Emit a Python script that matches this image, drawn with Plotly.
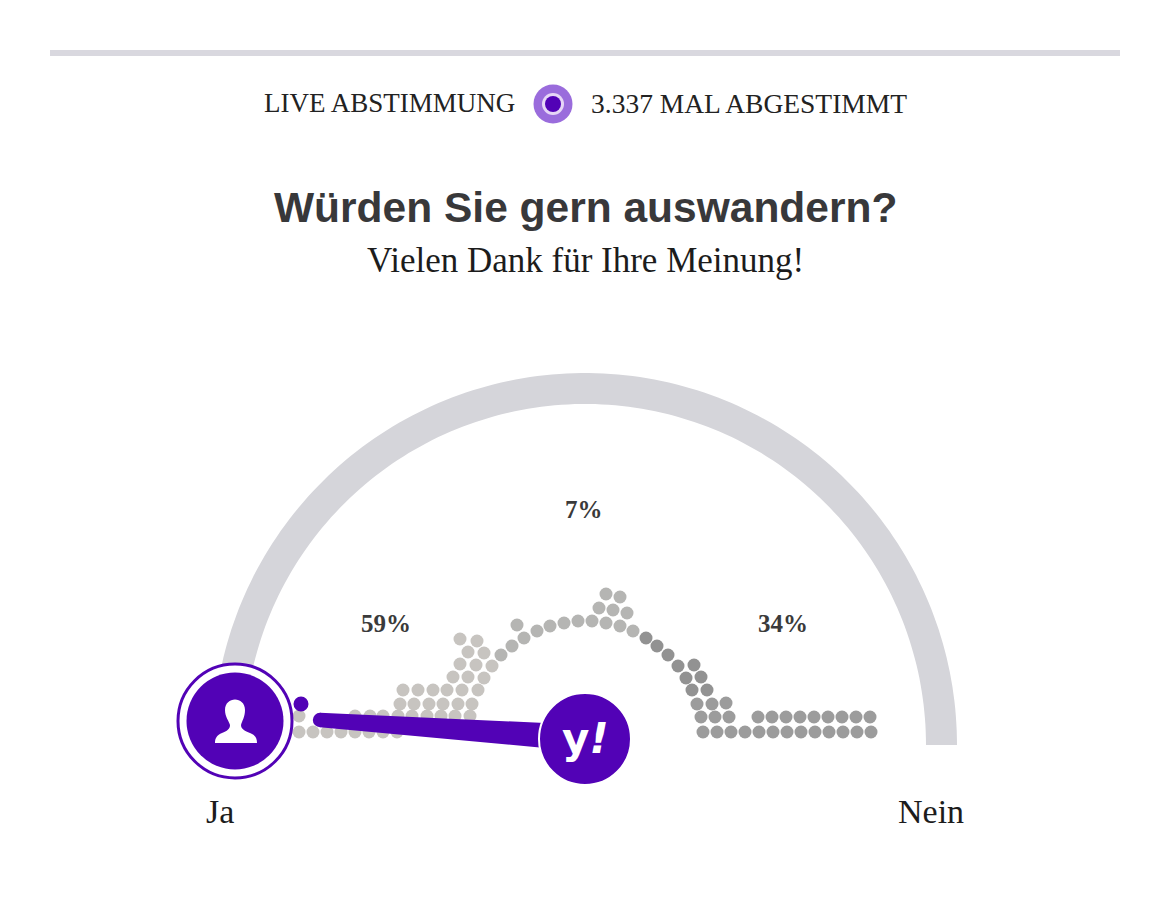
import numpy as np
import plotly.graph_objects as go

# Werte
QUESTION = "Würden Sie gern auswandern?"
SUBTITLE = "Vielen Dank für Ihre Meinung!"
LIVE_LEFT = "LIVE ABSTIMMUNG"
LIVE_RIGHT = "3.337 MAL ABGESTIMMT"
ANSWERS = ["Ja", "Nein"]
PERCENT_LABELS = ["59%", "7%", "34%"]

JA_X = [460, 477, 468, 484, 460, 476, 492, 453, 468, 484,
        403, 418, 433, 447, 462, 478,
        400, 414, 429, 443, 458, 472,
        299, 355, 370, 383, 398, 412, 427, 441, 455, 470,
        299, 313, 327, 341, 355, 369, 383, 397]
JA_Y = [639, 641, 652, 653, 664, 665, 666, 677, 677, 678,
        690, 690, 690, 690, 690, 690,
        704, 704, 704, 704, 704, 704,
        716, 716, 716, 716, 716, 716, 716, 716, 716, 716,
        732, 732, 732, 732, 732, 732, 732, 732]

MITTE_X = [606, 620, 599, 613, 627, 517, 592, 578, 564, 550, 537, 524, 512, 501,
           606, 620, 633]
MITTE_Y = [594, 597, 608, 610, 613, 625, 621, 621, 623, 626, 631, 638, 646, 655,
           623, 626, 631]

KURVE_X = [646, 657, 668, 678, 694, 686, 701, 692, 707]
KURVE_Y = [638, 646, 655, 666, 665, 678, 677, 690, 690]

NEIN_X = [697, 712, 726, 701, 715, 729,
          758, 772, 786, 800, 814, 828, 842, 856, 870,
          703, 717, 731, 745, 759, 773, 787, 801, 815, 829, 843, 857, 871]
NEIN_Y = [704, 704, 703, 717, 717, 717,
          717, 717, 717, 717, 717, 717, 717, 717, 717,
          732, 732, 732, 732, 732, 732, 732, 732, 732, 732, 732, 732, 732]

PURPLE = "#5202b6"
RING = "#d5d5da"


def circle(cx, cy, r, color, line_color=None, line_width=0):
    return dict(type="circle", xref="x", yref="y", layer="above",
                x0=cx - r, x1=cx + r, y0=cy - r, y1=cy + r,
                fillcolor=color, line=dict(color=line_color or color, width=line_width))


def poly(path, color, layer="above"):
    return dict(type="path", xref="x", yref="y", layer=layer, path=path,
                fillcolor=color, line=dict(width=0))


def arc_path(cx, cy, r_out, r_in):
    t = np.linspace(np.pi, 0, 160)
    pts = [(cx + r_out * np.cos(a), cy - r_out * np.sin(a)) for a in t]
    pts += [(cx + r_in * np.cos(a), cy - r_in * np.sin(a)) for a in t[::-1]]
    return "M " + " L ".join(f"{x:.1f},{y:.1f}" for x, y in pts) + " Z"


fig = go.Figure()

for xs, ys, col in [(JA_X, JA_Y, "#c7c4c0"), (MITTE_X, MITTE_Y, "#b5b5b3"),
                    (KURVE_X, KURVE_Y, "#929292"), (NEIN_X, NEIN_Y, "#9c9c9c")]:
    fig.add_trace(go.Scatter(x=xs, y=ys, mode="markers", hoverinfo="skip",
                             marker=dict(size=13, color=col, line=dict(width=0))))

shapes = [
    dict(type="rect", xref="x", yref="y", layer="below", x0=50, x1=1120, y0=50, y1=56,
         fillcolor="#d9d8df", line=dict(width=0)),
    poly(arc_path(585, 745, 372, 341), RING, layer="below"),
    # Live-Symbol
    circle(553, 104, 19.5, "#9a6cdc"),
    circle(553, 104, 11, "#e6d6f6"),
    circle(553, 104, 8, PURPLE),
    # Balken zum Yahoo-Kreis
    circle(320, 720, 7.2, PURPLE),
    poly("M 320,712.8 L 545,723 L 545,748 L 320,727.2 Z", PURPLE),
    circle(585, 739, 46, PURPLE, "#ffffff", 2),
    # Ja-Knopf
    circle(235, 721, 57, "#ffffff", PURPLE, 3),
    circle(235, 721, 48.5, PURPLE),
    dict(type="path", xref="x", yref="y", layer="above", fillcolor="#ffffff", line=dict(width=0),
         path="M 225,710 C 225,696 245,696 245,710 C 245,717 242,721 241,725 C 241,729 245,731 250,733 "
              "C 255,735 257,738 257,743 L 215,743 C 215,738 217,735 222,733 C 227,731 230,729 230,725 "
              "C 229,721 225,717 225,710 Z"),
    circle(301, 704, 7.5, PURPLE),
]

SERIF = "Liberation Serif"
notes = [
    (389, 103, LIVE_LEFT, SERIF, 27, "#222222"),
    (749, 103, LIVE_RIGHT, SERIF, 27.5, "#222222"),
    (585, 207, "<b>" + QUESTION + "</b>", "Liberation Sans", 42.5, "#38383a"),
    (585, 260, SUBTITLE, SERIF, 35, "#1c1c1c"),
    (386, 623, "<b>" + PERCENT_LABELS[0] + "</b>", SERIF, 25, "#3a3a3a"),
    (584, 509, "<b>" + PERCENT_LABELS[1] + "</b>", SERIF, 25, "#3a3a3a"),
    (783, 623, "<b>" + PERCENT_LABELS[2] + "</b>", SERIF, 25, "#3a3a3a"),
    (220, 811, ANSWERS[0], SERIF, 34, "#1c1c1c"),
    (931, 811, ANSWERS[1], SERIF, 34, "#1c1c1c"),
    (585, 738, "<b>y<i>!</i></b>", "DejaVu Sans", 42, "#ffffff"),
]

# die Seite hat 8px Rand, deshalb beginnen die Achsen bei 8
fig.update_layout(
    width=1162, height=907, margin=dict(l=0, r=0, t=0, b=0),
    paper_bgcolor="#ffffff", plot_bgcolor="#ffffff", showlegend=False,
    xaxis=dict(range=[8, 1170], visible=False, fixedrange=True),
    yaxis=dict(range=[915, 8], visible=False, fixedrange=True),
    shapes=shapes,
    annotations=[dict(x=x, y=y, text=t, showarrow=False, xanchor="center", yanchor="middle",
                      font=dict(family=fam, size=size, color=col))
                 for x, y, t, fam, size, col in notes],
)

fig.write_html("out.html")
